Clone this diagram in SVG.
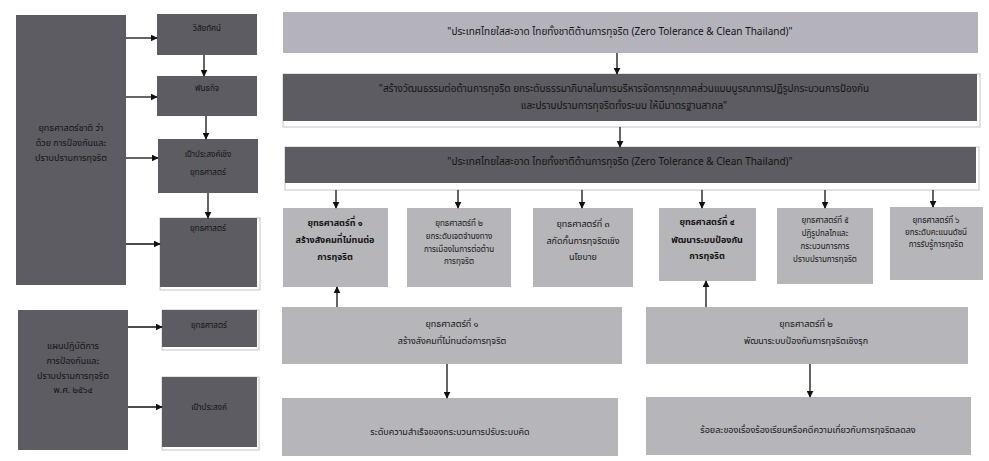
<svg xmlns="http://www.w3.org/2000/svg" width="989" height="461" viewBox="0 0 989 461">
<defs>
<marker id="ah" viewBox="0 0 10 10" refX="9" refY="5" markerWidth="7" markerHeight="7" orient="auto" markerUnits="userSpaceOnUse"><path d="M0,0 L10,5 L0,10 z" fill="#111"/></marker>
</defs>
<style>
text{font-family:"Noto Sans Thai","Noto Sans","DejaVu Sans",sans-serif;fill:#141414;text-anchor:middle;dominant-baseline:middle}
.dk{fill:#5c5c62}
.lt{fill:#b6b6ba}
.lv{fill:#b4b3bc}
.fr{fill:none;stroke:#c4c4c8;stroke-width:1}
.t9{font-size:9px}
.t8{font-size:8px}
.t10{font-size:10px}
.tb{font-size:9.5px}
.b{font-weight:bold}
#connectors line{stroke:#111;stroke-width:1.3;marker-end:url(#ah)}
</style>
<rect width="989" height="461" fill="#fff"/>

<g id="left-strategy">
<rect class="dk" x="16" y="15" width="110" height="270"/>
<text class="t9" x="71" y="128">ยุทธศาสตร์ชาติ ว่า</text>
<text class="t9" x="71" y="143">ด้วย การป้องกันและ</text>
<text class="t9" x="71" y="158">ปราบปรามการทุจริต</text>
</g>
<g id="vision-label">
<rect class="dk" x="157" y="14" width="100" height="41"/>
<text class="t8" x="207" y="29">วิสัยทัศน์</text>
</g>
<g id="mission-label">
<rect class="dk" x="157" y="76" width="100" height="40"/>
<text class="t8" x="207" y="89">พันธกิจ</text>
</g>
<g id="objective-label">
<rect class="dk" x="158" y="139" width="100" height="54"/>
<text class="t8" x="208" y="155">เป้าประสงค์เชิง</text>
<text class="t8" x="208" y="173">ยุทธศาสตร์</text>
</g>
<g id="strategy-label">
<rect class="fr" x="160" y="218" width="100" height="72"/>
<rect class="dk" x="160" y="218" width="97" height="69"/>
<text class="t8" x="208" y="229">ยุทธศาสตร์</text>
</g>

<g id="left-plan">
<rect class="dk" x="18" y="310" width="110" height="140"/>
<text class="t9" x="73" y="346">แผนปฏิบัติการ</text>
<text class="t9" x="73" y="361">การป้องกันและ</text>
<text class="t9" x="73" y="376">ปราบปรามการทุจริต</text>
<text class="t9" x="73" y="390">พ.ศ. ๒๕๖๔</text>
</g>
<g id="plan-strategy-label">
<rect class="fr" x="162" y="310" width="97" height="40"/>
<rect class="dk" x="162" y="310" width="95" height="37"/>
<text class="t8" x="209" y="326">ยุทธศาสตร์</text>
</g>
<g id="plan-objective-label">
<rect class="fr" x="162" y="377" width="97" height="73"/>
<rect class="dk" x="162" y="377" width="95" height="70"/>
<text class="t8" x="209" y="408">เป้าประสงค์</text>
</g>

<g id="banner-vision">
<rect class="lv" x="283" y="12" width="695" height="41"/>
<text class="t10" x="620" y="32">"ประเทศไทยใสสะอาด ไทยทั้งชาติต้านการทุจริต (Zero Tolerance &amp; Clean Thailand)"</text>
</g>
<g id="banner-mission">
<rect class="fr" x="283" y="74" width="697" height="53"/>
<rect class="dk" x="283" y="74" width="694" height="47"/>
<text class="t10" x="624" y="89">"สร้างวัฒนธรรมต่อต้านการทุจริต ยกระดับธรรมาภิบาลในการบริหารจัดการทุกภาคส่วนแบบบูรณาการปฏิรูปกระบวนการป้องกัน</text>
<text class="t10" x="624" y="106">และปราบปรามการทุจริตทั้งระบบ ให้มีมาตรฐานสากล"</text>
</g>
<g id="banner-vision-2">
<rect class="fr" x="285" y="147" width="694" height="43"/>
<rect class="dk" x="285" y="147" width="691" height="36"/>
<text class="t10" x="620" y="162">"ประเทศไทยใสสะอาด ไทยทั้งชาติต้านการทุจริต (Zero Tolerance &amp; Clean Thailand)"</text>
</g>

<g id="s1">
<rect class="lt" x="283" y="208" width="105" height="79"/>
<text class="t9 b" x="335" y="223">ยุทธศาสตร์ที่ ๑</text>
<text class="t9 b" x="335" y="240">สร้างสังคมที่ไม่ทนต่อ</text>
<text class="t9 b" x="335" y="257">การทุจริต</text>
</g>
<g id="s2">
<rect class="lt" x="407" y="208" width="104" height="79"/>
<text class="t8" x="459" y="224">ยุทธศาสตร์ที่ ๒</text>
<text class="t8" x="459" y="237">ยกระดับเจตจำนงทาง</text>
<text class="t8" x="459" y="250">การเมืองในการต่อต้าน</text>
<text class="t8" x="459" y="262">การทุจริต</text>
</g>
<g id="s3">
<rect class="lt" x="533" y="208" width="100" height="79"/>
<text class="t9" x="583" y="224">ยุทธศาสตร์ที่ ๓</text>
<text class="t9" x="583" y="241">สกัดกั้นการทุจริตเชิง</text>
<text class="t9" x="583" y="257">นโยบาย</text>
</g>
<g id="s4">
<rect class="lt" x="659" y="208" width="97" height="73"/>
<text class="t9 b" x="707" y="222">ยุทธศาสตร์ที่ ๔</text>
<text class="t9 b" x="707" y="240">พัฒนาระบบป้องกัน</text>
<text class="t9 b" x="707" y="256">การทุจริต</text>
</g>
<g id="s5">
<rect class="lt" x="777" y="208" width="96" height="76"/>
<text class="t8" x="825" y="221">ยุทธศาสตร์ที่ ๕</text>
<text class="t8" x="825" y="234">ปฏิรูปกลไกและ</text>
<text class="t8" x="825" y="247">กระบวนการการ</text>
<text class="t8" x="825" y="260">ปราบปรามการทุจริต</text>
</g>
<g id="s6">
<rect class="lt" x="890" y="207" width="93" height="73"/>
<text class="t8" x="936" y="221">ยุทธศาสตร์ที่ ๖</text>
<text class="t8" x="936" y="233">ยกระดับคะแนนดัชนี</text>
<text class="t8" x="936" y="245">การรับรู้การทุจริต</text>
</g>

<g id="plan-s1">
<rect class="lt" x="282" y="307" width="340" height="57"/>
<text class="t9" x="452" y="324">ยุทธศาสตร์ที่ ๑</text>
<text class="t9" x="452" y="341">สร้างสังคมที่ไม่ทนต่อการทุจริต</text>
</g>
<g id="plan-s2">
<rect class="lt" x="646" y="307" width="322" height="57"/>
<text class="t9" x="806" y="324">ยุทธศาสตร์ที่ ๒</text>
<text class="t9" x="806" y="341">พัฒนาระบบป้องกันการทุจริตเชิงรุก</text>
</g>
<g id="target-1">
<rect class="lt" x="282" y="398" width="336" height="58"/>
<text class="t9" x="450" y="432">ระดับความสำเร็จของกระบวนการปรับระบบคิด</text>
</g>
<g id="target-2">
<rect class="lt" x="646" y="397" width="325" height="58"/>
<text class="t9" x="808" y="430">ร้อยละของเรื่องร้องเรียนหรือคดีความเกี่ยวกับการทุจริตลดลง</text>
</g>

<g id="connectors">
<line x1="126" y1="38" x2="157" y2="38"/>
<line x1="126" y1="97" x2="157" y2="97"/>
<line x1="126" y1="158" x2="158" y2="158"/>
<line x1="126" y1="244" x2="160" y2="244"/>
<line x1="204" y1="55" x2="204" y2="76"/>
<line x1="206" y1="116" x2="206" y2="139"/>
<line x1="208" y1="193" x2="208" y2="218"/>
<line x1="128" y1="327" x2="162" y2="327"/>
<line x1="128" y1="407" x2="162" y2="407"/>
<line x1="617" y1="53" x2="617" y2="74"/>
<line x1="620" y1="127" x2="620" y2="147"/>
<line x1="336" y1="190" x2="336" y2="208"/>
<line x1="458" y1="190" x2="458" y2="208"/>
<line x1="582" y1="190" x2="582" y2="208"/>
<line x1="702" y1="190" x2="702" y2="208"/>
<line x1="825" y1="190" x2="825" y2="208"/>
<line x1="933" y1="190" x2="933" y2="207"/>
<line x1="337" y1="307" x2="337" y2="287"/>
<line x1="706" y1="307" x2="706" y2="281"/>
<line x1="447" y1="364" x2="447" y2="398"/>
<line x1="810" y1="364" x2="810" y2="397"/>
</g>
</svg>
